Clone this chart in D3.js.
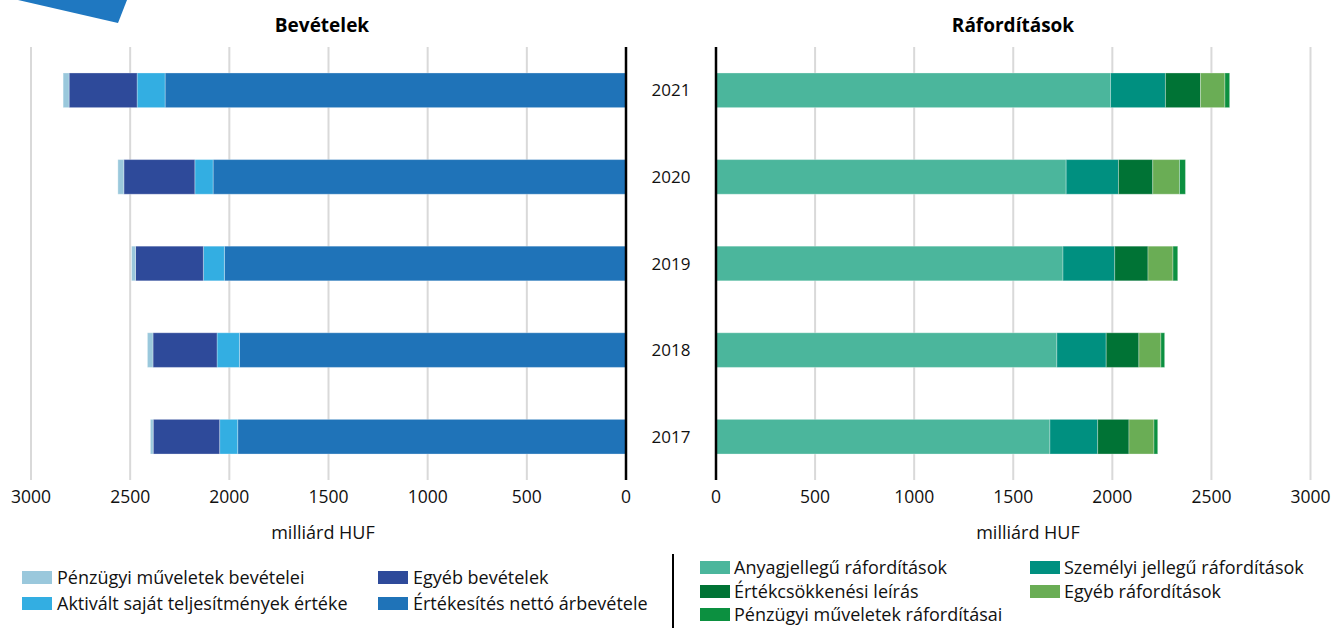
<!DOCTYPE html>
<html>
<head>
<meta charset="utf-8">
<script src="https://cdn.jsdelivr.net/npm/d3@7"></script>
<style>
  body { margin: 0; background: #fff; }
  svg { display: block; font-family: "Open Sans", sans-serif; }
</style>
</head>
<body>
<svg id="chart"></svg>
<script>
var width = 1331;
var height = 628;

// years, top to bottom
var years = ["2021", "2020", "2019", "2018", "2017"];
var ticks = [0, 500, 1000, 1500, 2000, 2500, 3000];

// Bevételek (milliárd HUF), drawn from the centre outwards
var revNames = ["Értékesítés nettó árbevétele", "Aktivált saját teljesítmények értéke", "Egyéb bevételek", "Pénzügyi műveletek bevételei"];
var revNetto = [2324, 2082, 2025, 1949, 1958];
var revAktivalt = [141, 92, 106, 113, 91];
var revEgyeb = [343, 358, 342, 323, 335];
var revPenzugyi = [30, 30, 20, 28, 14];
var revColors = ["#1f73b8", "#33aee2", "#2e4a9a", "#9ac8dc"];

// Ráfordítások (milliárd HUF)
var expNames = ["Anyagjellegű ráfordítások", "Személyi jellegű ráfordítások", "Értékcsökkenési leírás", "Egyéb ráfordítások", "Pénzügyi műveletek ráfordításai"];
var expAnyag = [1991, 1767, 1751, 1720, 1685];
var expSzemelyi = [277, 264, 261, 249, 241];
var expErtekcs = [177, 173, 168, 165, 158];
var expEgyeb = [123, 135, 126, 111, 126];
var expPenzugyi = [24, 30, 24, 19, 19];
var expColors = ["#4bb69c", "#009080", "#007335", "#6aad55", "#0c9040"];

var svg = d3.select("#chart")
    .attr("width", width)
    .attr("height", height);

// corner decoration
svg.append("polygon")
    .attr("points", "18,0 118,23 127,0")
    .attr("fill", "#1f78c1");

var y = d3.scaleBand()
    .domain(years)
    .range([47, 480])
    .paddingInner(0.6)
    .paddingOuter(0.3);

var xLeft = d3.scaleLinear().domain([0, 3000]).range([626, 31]);
var xRight = d3.scaleLinear().domain([0, 3000]).range([716, 1310.5]);

function buildRows(series) {
    var rows = [];
    for (var i = 0; i < years.length; i++) {
        var acc = 0;
        for (var s = 0; s < series.length; s++) {
            rows.push({ year: years[i], s: s, start: acc, end: acc + series[s][i] });
            acc += series[s][i];
        }
    }
    return rows;
}

var revRows = buildRows([revNetto, revAktivalt, revEgyeb, revPenzugyi]);
var expRows = buildRows([expAnyag, expSzemelyi, expErtekcs, expEgyeb, expPenzugyi]);

// gridlines
svg.append("g").selectAll("line")
    .data(ticks.filter(function (t) { return t > 0; }))
    .enter().append("line")
    .attr("x1", function (d) { return xLeft(d); })
    .attr("x2", function (d) { return xLeft(d); })
    .attr("y1", 47).attr("y2", 480)
    .attr("stroke", "#d9d9d9").attr("stroke-width", 2);

svg.append("g").selectAll("line")
    .data(ticks.filter(function (t) { return t > 0; }))
    .enter().append("line")
    .attr("x1", function (d) { return xRight(d); })
    .attr("x2", function (d) { return xRight(d); })
    .attr("y1", 47).attr("y2", 480)
    .attr("stroke", "#d9d9d9").attr("stroke-width", 2);

// bars
svg.append("g").selectAll("rect")
    .data(revRows)
    .enter().append("rect")
    .attr("x", function (d) { return xLeft(d.end); })
    .attr("width", function (d) { return xLeft(d.start) - xLeft(d.end); })
    .attr("y", function (d) { return y(d.year); })
    .attr("height", y.bandwidth())
    .attr("fill", function (d) { return revColors[d.s]; })
    .attr("stroke", "rgba(255,255,255,0.3)")
    .attr("stroke-width", 1);

svg.append("g").selectAll("rect")
    .data(expRows)
    .enter().append("rect")
    .attr("x", function (d) { return xRight(d.start); })
    .attr("width", function (d) { return xRight(d.end) - xRight(d.start); })
    .attr("y", function (d) { return y(d.year); })
    .attr("height", y.bandwidth())
    .attr("fill", function (d) { return expColors[d.s]; })
    .attr("stroke", "rgba(255,255,255,0.3)")
    .attr("stroke-width", 1);

// centre axes
svg.append("line")
    .attr("x1", xLeft(0)).attr("x2", xLeft(0))
    .attr("y1", 47).attr("y2", 480)
    .attr("stroke", "#000").attr("stroke-width", 2.5);
svg.append("line")
    .attr("x1", xRight(0)).attr("x2", xRight(0))
    .attr("y1", 47).attr("y2", 480)
    .attr("stroke", "#000").attr("stroke-width", 2.5);

// year labels
svg.append("g").selectAll("text")
    .data(years)
    .enter().append("text")
    .attr("x", 671)
    .attr("y", function (d) { return y(d) + y.bandwidth() / 2 + 6; })
    .attr("text-anchor", "middle")
    .attr("font-size", "17px")
    .attr("fill", "#111")
    .text(function (d) { return d; });

// tick labels
svg.append("g").selectAll("text")
    .data(ticks)
    .enter().append("text")
    .attr("x", function (d) { return xLeft(d); })
    .attr("y", 503)
    .attr("text-anchor", "middle")
    .attr("font-size", "17.5px")
    .attr("fill", "#111")
    .text(function (d) { return d; });

svg.append("g").selectAll("text")
    .data(ticks)
    .enter().append("text")
    .attr("x", function (d) { return xRight(d); })
    .attr("y", 503)
    .attr("text-anchor", "middle")
    .attr("font-size", "17.5px")
    .attr("fill", "#111")
    .text(function (d) { return d; });

// titles and axis units
svg.append("text").attr("x", 322).attr("y", 32)
    .attr("text-anchor", "middle").attr("font-size", "19px").attr("font-weight", "bold")
    .text("Bevételek");
svg.append("text").attr("x", 1013).attr("y", 32)
    .attr("text-anchor", "middle").attr("font-size", "19px").attr("font-weight", "bold")
    .text("Ráfordítások");

svg.append("text").attr("x", 323).attr("y", 539)
    .attr("text-anchor", "middle").attr("font-size", "18px").attr("fill", "#111")
    .text("milliárd HUF");
svg.append("text").attr("x", 1028).attr("y", 539)
    .attr("text-anchor", "middle").attr("font-size", "18px").attr("fill", "#111")
    .text("milliárd HUF");

// legends
var revLegendOrder = [3, 2, 1, 0];
var revLegendPos = [[22, 578], [378, 578], [22, 604], [378, 604]];
var leftLegend = svg.append("g").selectAll("g")
    .data(revLegendOrder)
    .enter().append("g")
    .attr("transform", function (d, i) { return "translate(" + revLegendPos[i][0] + "," + revLegendPos[i][1] + ")"; });
leftLegend.append("rect")
    .attr("x", 0).attr("y", -7).attr("width", 30).attr("height", 13)
    .attr("fill", function (d) { return revColors[d]; });
leftLegend.append("text")
    .attr("x", 35).attr("y", 6)
    .attr("font-size", "18px").attr("fill", "#111")
    .text(function (d) { return revNames[d]; });

svg.append("line")
    .attr("x1", 673).attr("x2", 673)
    .attr("y1", 554).attr("y2", 628)
    .attr("stroke", "#000").attr("stroke-width", 2);

var expLegendPos = [[700, 568], [1030, 568], [700, 592], [1030, 592], [700, 615]];
var rightLegend = svg.append("g").selectAll("g")
    .data(expNames)
    .enter().append("g")
    .attr("transform", function (d, i) { return "translate(" + expLegendPos[i][0] + "," + expLegendPos[i][1] + ")"; });
rightLegend.append("rect")
    .attr("x", 0).attr("y", -7).attr("width", 30).attr("height", 13)
    .attr("fill", function (d, i) { return expColors[i]; });
rightLegend.append("text")
    .attr("x", 34).attr("y", 6)
    .attr("font-size", "18px").attr("fill", "#111")
    .text(function (d) { return d; });
</script>
</body>
</html>
